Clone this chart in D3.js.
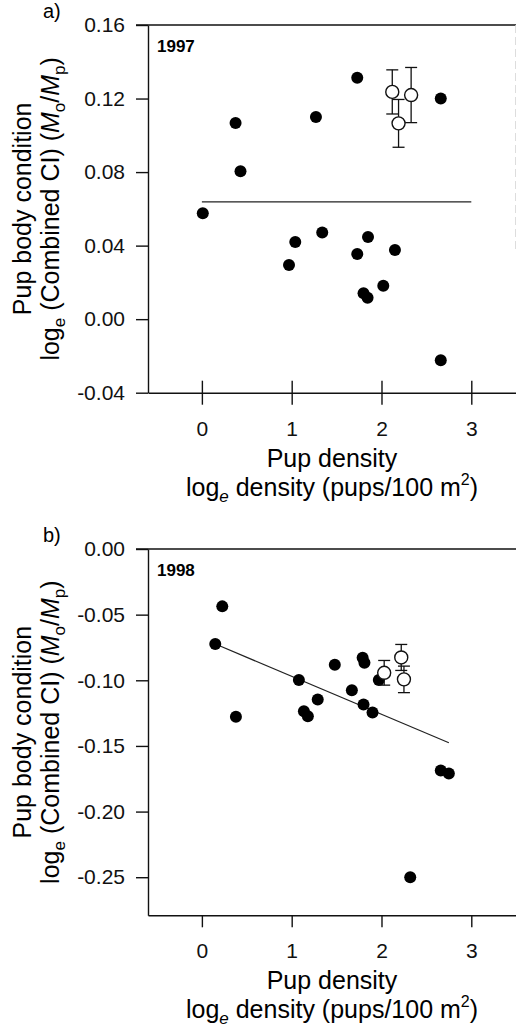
<!DOCTYPE html>
<html>
<head>
<meta charset="utf-8">
<script src="https://cdn.jsdelivr.net/npm/d3@7"></script>
<style>
  body { margin: 0; background: #fff; }
  svg { display: block; font-family: "Liberation Sans", Arial, sans-serif; }
  .domain, .tick line { stroke: #111; stroke-width: 1.4; }
</style>
</head>
<body>
<script>
// 1997 colonies (filled dots)
var dens97 = [0.01, 0.375, 0.43, 0.97, 1.04, 1.27, 1.34, 1.73, 1.73, 1.80, 1.85, 1.845, 2.02, 2.15, 2.66, 2.66]
var cond97 = [0.0576, 0.1067, 0.0804, 0.0295, 0.042, 0.110, 0.0472, 0.1313, 0.0354, 0.0141, 0.0447, 0.0117, 0.0182, 0.0376, 0.120, -0.0224]
// 1997 sites with error bars (open circles)
var siteDens97 = [2.12, 2.19, 2.33]
var siteCond97 = [0.1236, 0.1065, 0.1219]
var siteErr97 = [0.012, 0.013, 0.015]
// 1997 fitted line
var lineX97 = [0, 3]
var lineY97 = [0.0638, 0.0638]

// 1998 colonies
var dens98 = [0.227, 0.149, 0.379, 1.08, 1.136, 1.18, 1.29, 1.48, 1.67, 1.79, 1.81, 1.80, 1.90, 1.97, 2.66, 2.75, 2.32]
var cond98 = [-0.0437, -0.0724, -0.1278, -0.0998, -0.1235, -0.1273, -0.1146, -0.0882, -0.1075, -0.0828, -0.0866, -0.1184, -0.1245, -0.0998, -0.1687, -0.171, -0.25]
var siteDens98 = [2.03, 2.22, 2.25]
var siteCond98 = [-0.0943, -0.0826, -0.0993]
var siteErr98 = [0.0094, 0.0099, 0.0101]
var lineX98 = [0.15, 2.75]
var lineY98 = [-0.0724, -0.1476]

var xTicks = [0, 1, 2, 3]
var yTicks97 = [-0.04, 0.00, 0.04, 0.08, 0.12, 0.16]
var yTicks98 = [-0.25, -0.20, -0.15, -0.10, -0.05, 0.00]

var w = 516, h = 1032

var svg = d3.select('body').append('svg')
    .attr('width', w)
    .attr('height', h)

// plain hyphen instead of d3's unicode minus
function fmt(d) {
    return d3.format('.2f')(d).replace('\u2212', '-')
}

function panel(o) {
    var x = d3.scaleLinear().domain([-0.6, 3.5]).range([148, 516.2])
    var y = d3.scaleLinear().domain(o.yDomain).range([o.bottom, o.top])
    var g = svg.append('g')

    // y axis
    var ya = g.append('g')
        .attr('transform', 'translate(148,0)')
        .call(d3.axisLeft(y).tickValues(o.yTicks).tickSize(12).tickPadding(11).tickFormat(fmt).tickSizeOuter(0))
    ya.selectAll('text').attr('font-size', 21).attr('fill', '#111')

    // x axis
    var xa = g.append('g')
        .attr('transform', 'translate(0,' + o.bottom + ')')
        .call(d3.axisBottom(x).tickValues(xTicks).tickSize(12).tickPadding(16).tickFormat(d3.format('d')).tickSizeOuter(0))
    xa.selectAll('text').attr('font-size', 21).attr('fill', '#111')
    if (o.crossTicks) xa.selectAll('.tick line').attr('y1', -12)
    g.selectAll('.tick text').attr('font-family', null)
    g.selectAll('g').attr('font-family', null)

    // top frame line
    g.append('line')
        .attr('x1', 136).attr('x2', w)
        .attr('y1', o.top).attr('y2', o.top)
        .attr('stroke', '#111').attr('stroke-width', 1.4)

    if (o.rightEdge) {
        g.append('line')
            .attr('x1', 515.5).attr('x2', 515.5)
            .attr('y1', o.top).attr('y2', o.top + 225)
            .attr('stroke', '#d4d4d4').attr('stroke-width', 0.8)
            .attr('stroke-dasharray', '8,4')
    }

    // fitted line
    g.append('line')
        .attr('x1', x(o.lineX[0])).attr('x2', x(o.lineX[1]))
        .attr('y1', y(o.lineY[0])).attr('y2', y(o.lineY[1]))
        .attr('stroke', '#222').attr('stroke-width', 1.2)

    // filled dots
    g.selectAll('.dot')
        .data(d3.range(o.dens.length))
        .enter().append('circle')
        .attr('cx', function(i) { return x(o.dens[i]) })
        .attr('cy', function(i) { return y(o.cond[i]) })
        .attr('r', 6)
        .attr('fill', '#000')

    // sites: error bars then open circles
    var sites = g.selectAll('.site')
        .data(d3.range(o.sDens.length))
        .enter().append('g')

    sites.append('line')
        .attr('x1', function(i) { return x(o.sDens[i]) })
        .attr('x2', function(i) { return x(o.sDens[i]) })
        .attr('y1', function(i) { return y(o.sCond[i] + o.sErr[i]) })
        .attr('y2', function(i) { return y(o.sCond[i] - o.sErr[i]) })
        .attr('stroke', '#111').attr('stroke-width', 1.3)
    ;[1, -1].forEach(function(s) {
        sites.append('line')
            .attr('x1', function(i) { return x(o.sDens[i]) - 6 })
            .attr('x2', function(i) { return x(o.sDens[i]) + 6 })
            .attr('y1', function(i) { return y(o.sCond[i] + s * o.sErr[i]) })
            .attr('y2', function(i) { return y(o.sCond[i] + s * o.sErr[i]) })
            .attr('stroke', '#111').attr('stroke-width', 1.3)
    })
    sites.append('circle')
        .attr('cx', function(i) { return x(o.sDens[i]) })
        .attr('cy', function(i) { return y(o.sCond[i]) })
        .attr('r', 6.5)
        .attr('fill', '#fff')
        .attr('stroke', '#111').attr('stroke-width', 1.4)

    // panel letter and year
    g.append('text').attr('x', 43).attr('y', o.top - 7)
        .attr('font-size', 20).text(o.letter)
    g.append('text').attr('x', 157).attr('y', o.top + 27)
        .attr('font-size', 17).attr('font-weight', 'bold').text(o.year)

    // x title
    var cx = 332
    g.append('text').attr('x', cx).attr('y', o.bottom + 74)
        .attr('text-anchor', 'middle').attr('font-size', 25).text('Pup density')
    var t2 = g.append('text').attr('x', cx).attr('y', o.bottom + 103)
        .attr('text-anchor', 'middle').attr('font-size', 25)
    t2.append('tspan').text('log')
    t2.append('tspan').attr('font-size', 17).attr('font-style', 'italic').attr('dy', 6).text('e')
    t2.append('tspan').attr('dy', -6).text(' density (pups/100 m')
    t2.append('tspan').attr('font-size', 16).attr('dy', -11).text('2')
    t2.append('tspan').attr('dy', 11).text(')')

    // y title
    var cy = (o.top + o.bottom) / 2
    g.append('text')
        .attr('transform', 'translate(31,' + cy + ') rotate(-90)')
        .attr('text-anchor', 'middle').attr('font-size', 25)
        .text('Pup body condition')
    var t3 = g.append('text')
        .attr('transform', 'translate(59,' + cy + ') rotate(-90)')
        .attr('text-anchor', 'middle').attr('font-size', 25)
    t3.append('tspan').text('log')
    t3.append('tspan').attr('font-size', 17).attr('dy', 6).text('e')
    t3.append('tspan').attr('dy', -6).text(' (Combined CI) (')
    t3.append('tspan').attr('font-style', 'italic').text('M')
    t3.append('tspan').attr('font-size', 17).attr('dy', 6).text('o')
    t3.append('tspan').attr('dy', -6).text('/')
    t3.append('tspan').attr('font-style', 'italic').text('M')
    t3.append('tspan').attr('font-size', 17).attr('dy', 6).text('p')
    t3.append('tspan').attr('dy', -6).text(')')
}

panel({
    top: 25, bottom: 392.7, yDomain: [-0.04, 0.16], yTicks: yTicks97,
    dens: dens97, cond: cond97, sDens: siteDens97, sCond: siteCond97, sErr: siteErr97,
    lineX: lineX97, lineY: lineY97, letter: 'a)', year: '1997', crossTicks: true, rightEdge: true
})

panel({
    top: 549, bottom: 915.3, yDomain: [-0.279, 0], yTicks: yTicks98,
    dens: dens98, cond: cond98, sDens: siteDens98, sCond: siteCond98, sErr: siteErr98,
    lineX: lineX98, lineY: lineY98, letter: 'b)', year: '1998', crossTicks: false, rightEdge: false
})
</script>
</body>
</html>
